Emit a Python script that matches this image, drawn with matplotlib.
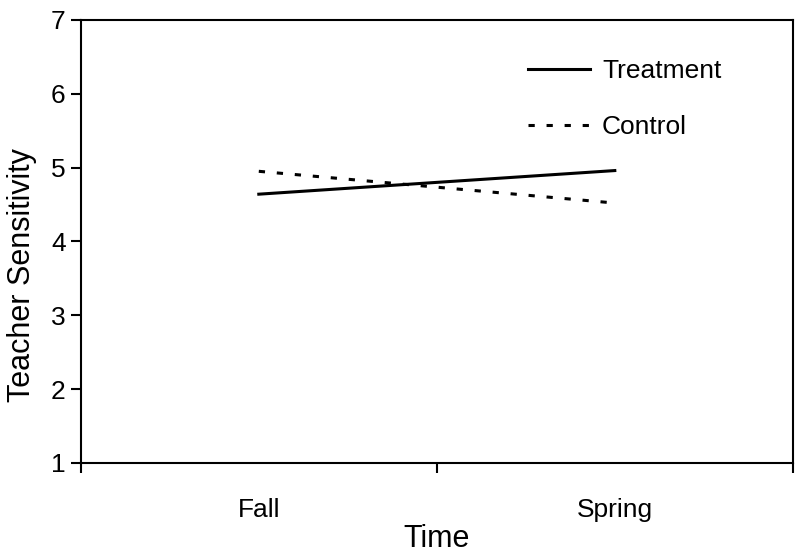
import matplotlib as mpl
mpl.use('Agg')
import matplotlib.pyplot as plt

# data
times = ['Fall', 'Spring']
time_pos = [1, 3]
treatment = [4.64, 4.96]
control = [4.95, 4.52]
yticks = [1, 2, 3, 4, 5, 6, 7]

plt.rcParams['font.family'] = ['Liberation Sans', 'DejaVu Sans']
plt.rcParams['lines.scale_dashes'] = False

fig = plt.figure(figsize=(8, 5.55), dpi=100)
ax = fig.add_axes([0.101, 0.166, 0.89, 0.798])

ax.plot(time_pos, treatment, color='black', lw=2.2, label='Treatment')
ax.plot(time_pos, control, color='black', lw=2.2, dashes=(4.5, 8.5), label='Control')

ax.set_xlim(0, 4)
ax.set_ylim(1, 7)
ax.set_yticks(yticks)
ax.set_xticks([0, 2, 4])
ax.set_xticklabels([])
ax.set_xticks(time_pos, minor=True)
ax.set_xticklabels(times, minor=True)

for s in ax.spines.values():
    s.set_linewidth(1.5)
ax.tick_params(axis='both', which='major', direction='out', length=7, width=1.5,
               labelsize=19, pad=4, colors='black')
ax.tick_params(axis='x', which='minor', length=0, labelsize=19, pad=25)

ax.set_xlabel('Time', fontsize=22, labelpad=2)
ax.set_ylabel('Teacher Sensitivity', fontsize=22)
ax.yaxis.set_label_coords(-0.062, 0.425)

ax.legend(loc='upper left', bbox_to_anchor=(0.595, 0.965), frameon=False, fontsize=19,
          handlelength=2.35, handletextpad=0.45, labelspacing=1.2)

fig.savefig('out.png', dpi=100)
plt.close()
